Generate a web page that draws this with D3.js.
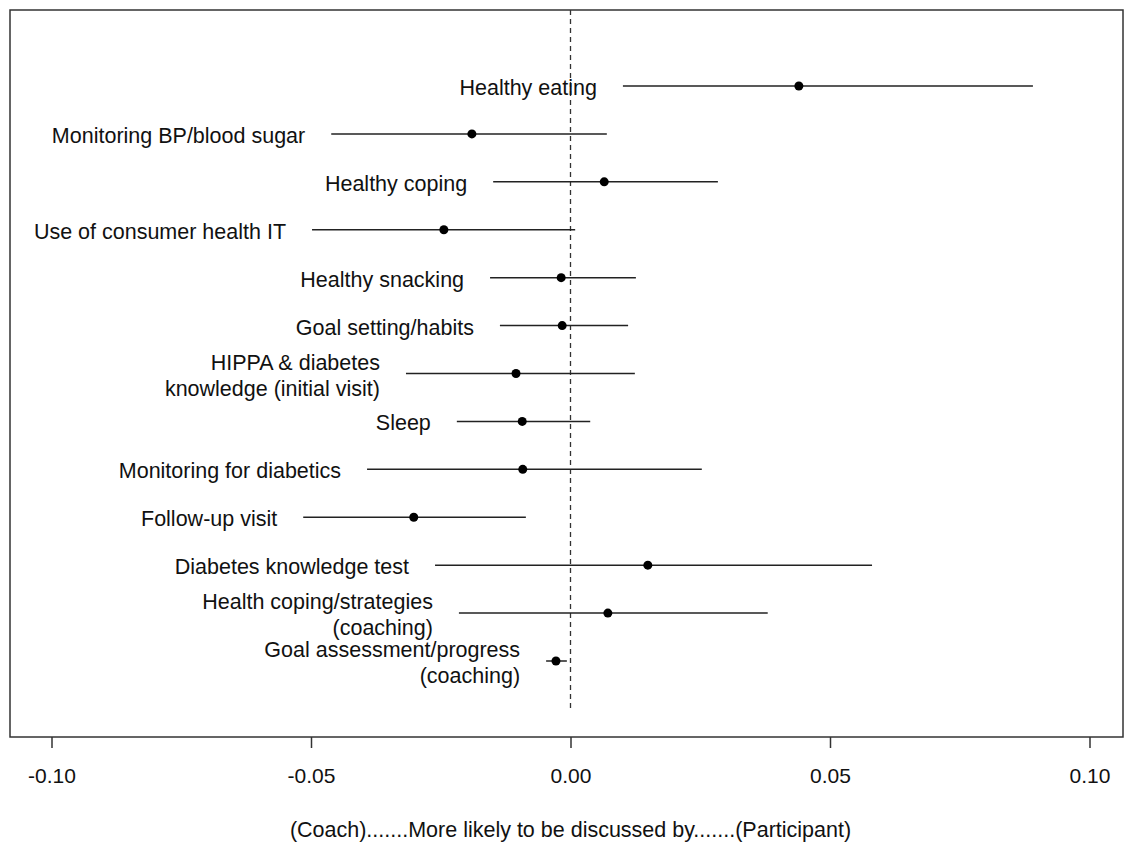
<!DOCTYPE html>
<html>
<head>
<meta charset="utf-8">
<script src="https://cdn.jsdelivr.net/npm/d3@7"></script>
<style>
  body { margin: 0; background: #fff; }
  text { font-family: "Liberation Sans", Arial, sans-serif; fill: #111; }
</style>
</head>
<body>
<div id="chart"></div>
<script>
const width = 1124;
const height = 844;

// topics, top to bottom ("\n" splits a label over two lines)
const topics = [
  'Healthy eating',
  'Monitoring BP/blood sugar',
  'Healthy coping',
  'Use of consumer health IT',
  'Healthy snacking',
  'Goal setting/habits',
  'HIPPA & diabetes\nknowledge (initial visit)',
  'Sleep',
  'Monitoring for diabetics',
  'Follow-up visit',
  'Diabetes knowledge test',
  'Health coping/strategies\n(coaching)',
  'Goal assessment/progress\n(coaching)'
];
const estimate = [0.0440, -0.0190, 0.0065, -0.0244, -0.0018, -0.0016, -0.0105, -0.0093, -0.0092, -0.0302, 0.0149, 0.0072, -0.0028];
const lower    = [0.0101, -0.0461, -0.0149, -0.0498, -0.0155, -0.0136, -0.0317, -0.0219, -0.0392, -0.0515, -0.0261, -0.0215, -0.0047];
const upper    = [0.0891, 0.0070, 0.0284, 0.0009, 0.0126, 0.0111, 0.0124, 0.0038, 0.0253, -0.0086, 0.0581, 0.0380, -0.0007];
const xTicks = [-0.10, -0.05, 0.00, 0.05, 0.10];
const xTitle = '(Coach).......More likely to be discussed by.......(Participant)';

const rows = topics.map((t, i) => ({ topic: t, est: estimate[i], lo: lower[i], hi: upper[i] }));

const box = { left: 10, top: 10, right: 1123, bottom: 737 };

const x = d3.scaleLinear().domain([-0.10, 0.10]).range([51.5, 1089.5]);
const y = d3.scalePoint().domain(topics).range([86, 661]);

const svg = d3.select('#chart').append('svg')
  .attr('width', width)
  .attr('height', height);

// plot frame
svg.append('rect')
  .attr('x', box.left)
  .attr('y', box.top)
  .attr('width', box.right - box.left)
  .attr('height', box.bottom - box.top)
  .attr('fill', 'none')
  .attr('stroke', '#333')
  .attr('stroke-width', 1.5);

// zero reference line
svg.append('line')
  .attr('x1', x(0)).attr('x2', x(0))
  .attr('y1', box.top).attr('y2', 710)
  .attr('stroke', '#333')
  .attr('stroke-width', 1.3)
  .attr('stroke-dasharray', '5,4');

// x axis
const xAxis = d3.axisBottom(x)
  .tickValues(xTicks)
  .tickFormat(d => d.toFixed(2))
  .tickSize(11)
  .tickPadding(20);

const gx = svg.append('g')
  .attr('transform', `translate(0,${box.bottom})`)
  .call(xAxis);
gx.select('.domain').remove();
gx.selectAll('line').attr('stroke', '#333').attr('stroke-width', 1.5);
gx.selectAll('text')
  .style('font-family', '"Liberation Sans", Arial, sans-serif')
  .style('font-size', '21px')
  .attr('fill', '#111');

svg.append('text')
  .attr('x', x(0))
  .attr('y', 837)
  .attr('text-anchor', 'middle')
  .style('font-size', '21.5px')
  .text(xTitle);

// interval lines
svg.append('g')
  .selectAll('line')
  .data(rows)
  .join('line')
  .attr('x1', d => x(d.lo))
  .attr('x2', d => x(d.hi))
  .attr('y1', d => y(d.topic))
  .attr('y2', d => y(d.topic))
  .attr('stroke', '#222')
  .attr('stroke-width', 1.5);

// estimates
svg.append('g')
  .selectAll('circle')
  .data(rows)
  .join('circle')
  .attr('cx', d => x(d.est))
  .attr('cy', d => y(d.topic))
  .attr('r', 4.5)
  .attr('fill', '#000');

// labels, right aligned just left of each interval
const lineH = 26;
svg.append('g')
  .selectAll('text')
  .data(rows)
  .join('text')
  .attr('text-anchor', 'end')
  .style('font-size', '21.5px')
  .each(function (d) {
    const lines = d.topic.split('\n');
    const cy = y(d.topic) + 1.5 - (lines.length - 1) * lineH / 2;
    d3.select(this).selectAll('tspan')
      .data(lines)
      .join('tspan')
      .attr('x', x(d.lo) - 26)
      .attr('y', (l, i) => cy + i * lineH)
      .attr('dy', '0.35em')
      .text(l => l);
  });
</script>
</body>
</html>
